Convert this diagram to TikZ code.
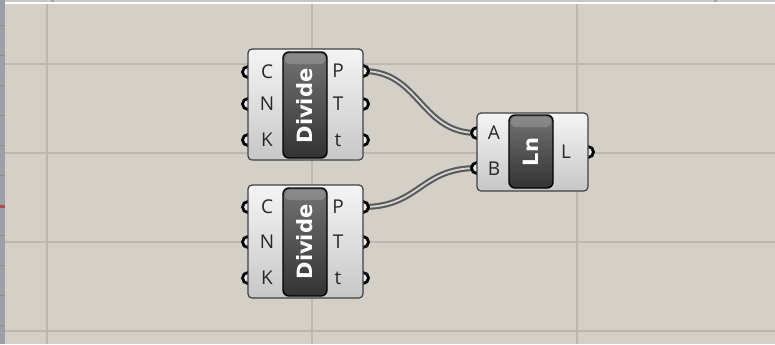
\documentclass[tikz,border=0pt]{standalone}
\usepackage{fontspec}
\setmainfont{Open Sans}
\newfontfamily\capfont{DejaVu Sans}
\definecolor{canvas}{HTML}{D4D0C8}
\definecolor{gridline}{HTML}{BCB8B0}
\definecolor{sidebar}{HTML}{9A9FA8}
\definecolor{wireout}{HTML}{5A5A5A}
\definecolor{wirein}{HTML}{D6D6D6}
\begin{document}
\begin{tikzpicture}[x=0.5pt, y=-0.5pt,
  compbox/.style={draw=black!75, line width=0.6pt, rounded corners=2pt, top color=white!96!black, bottom color=black!22},
  capsule/.style={draw=black, line width=0.7pt, rounded corners=3pt, top color=black!55, bottom color=black!80},
  capglow/.style={fill=white, opacity=0.18, rounded corners=2pt},
  port/.style={draw=black, line width=1.4pt, fill=white!92!black},
  wire/.style={draw=wireout, line width=3pt},
  wirecore/.style={draw=wirein, line width=0.9pt},
  plabel/.style={font=\fontsize{9.5}{10}\selectfont, text=black!85, inner sep=0pt},
  cname/.style={font=\capfont\bfseries\fontsize{10.5}{10.5}\selectfont, text=white, rotate=90, inner sep=0pt}]

\useasboundingbox (0,0) rectangle (775,344);
\fill[canvas] (0,0) rectangle (775,344);

\draw[gridline, line width=1pt] (47,0) -- (47,344);
\draw[gridline, line width=1pt] (312,0) -- (312,344);
\draw[gridline, line width=1pt] (577,0) -- (577,344);
\draw[gridline, line width=1pt] (0,64) -- (775,64);
\draw[gridline, line width=1pt] (0,153) -- (775,153);
\draw[gridline, line width=1pt] (0,242) -- (775,242);
\draw[gridline, line width=1pt] (0,331) -- (775,331);

\fill[black!22] (0,0) rectangle (775,1.5);
\fill[white] (0,1.5) rectangle (775,4);
\fill[black!35] (51,0) rectangle (54,1.5);
\fill[black!35] (714,0) rectangle (717,1.5);
\fill[sidebar] (0,0) rectangle (5,344);
\foreach \y in {25,55,85,115,145,175,235,265,295,325}
  \draw[black!45, line width=0.3pt] (0,\y) -- (5,\y);
\fill[red!55!black!70] (0,205) rectangle (5,207.5);

\coordinate (topP) at (363,71);
\coordinate (botP) at (363,207);
\coordinate (lnA) at (477,133);
\coordinate (lnB) at (477,168);

\draw[wire] (topP) .. controls (420,71) and (420,133) .. (lnA);
\draw[wirecore] (topP) .. controls (420,71) and (420,133) .. (lnA);
\draw[wire] (botP) .. controls (420,207) and (420,168) .. (lnB);
\draw[wirecore] (botP) .. controls (420,207) and (420,168) .. (lnB);

\draw[port] (248,72) circle (5.5);
\draw[port] (248,104) circle (5.5);
\draw[port] (248,140) circle (5.5);
\draw[port] (363,71) circle (5.5);
\draw[port] (363,104) circle (5.5);
\draw[port] (363,140) circle (5.5);
\draw[compbox] (248,49) rectangle (363,160);
\draw[capsule] (283,52) rectangle (327,158);
\fill[capglow] (285,54) rectangle (325,64);

\draw[port] (248,207) circle (5.5);
\draw[port] (248,242) circle (5.5);
\draw[port] (248,278) circle (5.5);
\draw[port] (363,207) circle (5.5);
\draw[port] (363,242) circle (5.5);
\draw[port] (363,278) circle (5.5);
\draw[compbox] (248,185) rectangle (363,298);
\draw[capsule] (283,188) rectangle (327,296);
\fill[capglow] (285,190) rectangle (325,200);

\draw[port] (477,133) circle (5.5);
\draw[port] (477,168) circle (5.5);
\draw[port] (588,152) circle (5.5);
\draw[compbox] (477,113) rectangle (588,191);
\draw[capsule] (509,115) rectangle (553,188);
\fill[capglow] (511,117) rectangle (551,127);

\node[cname] (divtop) at (305,106) {Divide};
\node[cname] (divbot) at (305,242) {Divide};
\node[cname] (lnname) at (531,152) {Ln};

\node[plabel] (topC) at (267,72) {C};
\node[plabel] (topN) at (267,104) {N};
\node[plabel] (topK) at (267,140) {K};
\node[plabel] (topPl) at (338,71) {P};
\node[plabel] (topT) at (338,104) {T};
\node[plabel] (topt) at (338,140) {t};

\node[plabel] (botC) at (267,207) {C};
\node[plabel] (botN) at (267,242) {N};
\node[plabel] (botK) at (267,278) {K};
\node[plabel] (botPl) at (338,207) {P};
\node[plabel] (botT) at (338,242) {T};
\node[plabel] (bott) at (338,278) {t};

\node[plabel] (lnAl) at (494,133) {A};
\node[plabel] (lnBl) at (494,169) {B};
\node[plabel] (lnL) at (566,152) {L};
\end{tikzpicture}
\end{document}
